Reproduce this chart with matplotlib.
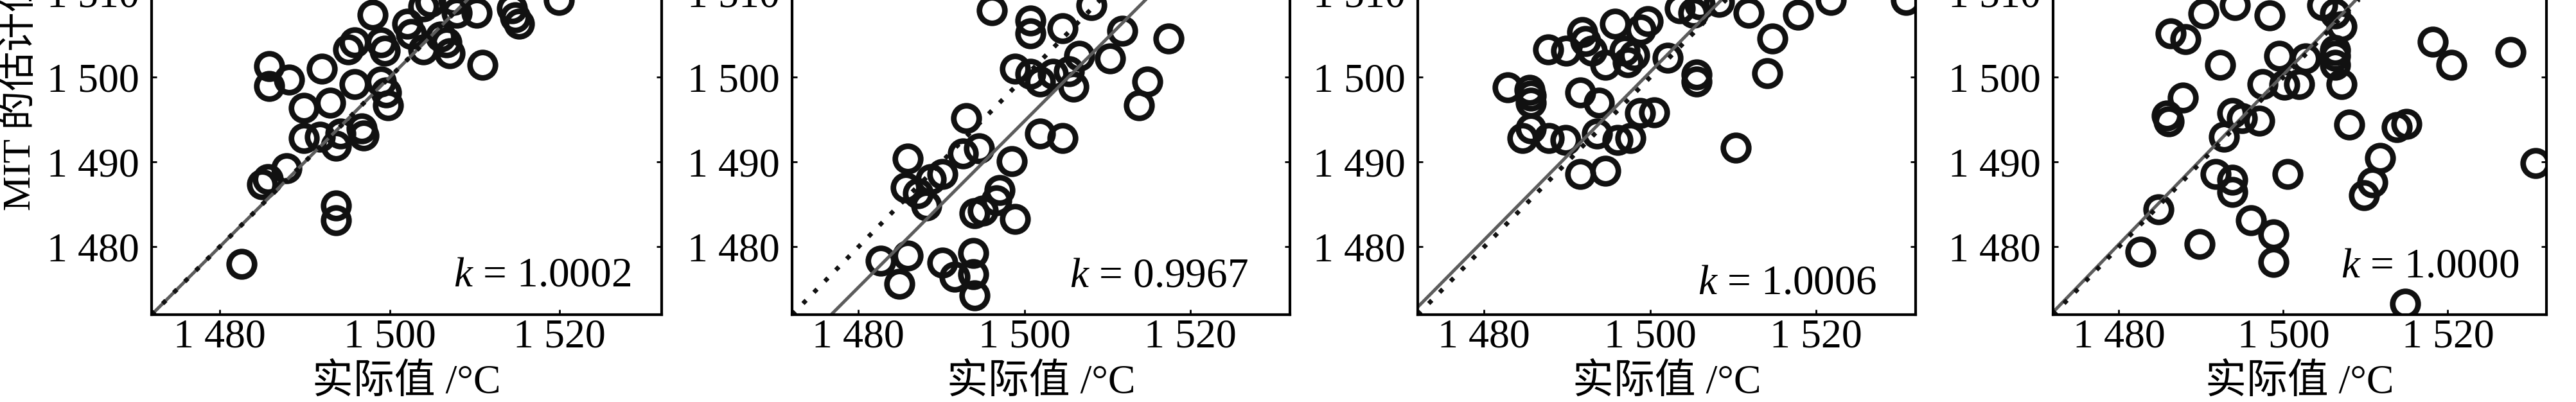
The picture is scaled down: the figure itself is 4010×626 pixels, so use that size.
import numpy as np
import matplotlib
matplotlib.use("Agg")
import matplotlib.pyplot as plt
from matplotlib.ticker import FixedLocator, FuncFormatter

plt.rcParams['font.family'] = ['Liberation Serif', 'Noto Sans CJK SC', 'DejaVu Sans']
plt.rcParams['mathtext.fontset'] = 'custom'
plt.rcParams['mathtext.it'] = 'Liberation Serif:italic'
plt.rcParams['mathtext.rm'] = 'Liberation Serif'

# ---- data ----
x1 = [1482.6, 1493.7, 1493.7, 1485.0, 1485.7, 1487.9, 1489.9, 1491.8, 1493.7, 1494.2,
      1496.7, 1496.9, 1493.0, 1489.9, 1499.6, 1499.8,
      1485.8, 1485.8, 1488.2, 1492.0, 1495.1, 1495.9, 1495.9, 1498.0, 1499.0, 1499.4,
      1502.1, 1502.5, 1504.0, 1504.8, 1504.0, 1506.0, 1506.7, 1507.1, 1507.9, 1510.2,
      1510.9, 1514.4, 1514.8, 1515.2, 1519.9, 1507.5, 1499.0]
y1 = [1478.0, 1484.9, 1483.1, 1487.4, 1488.0, 1489.3, 1492.8, 1493.0, 1491.9, 1493.4,
      1494.0, 1493.1, 1497.0, 1496.4, 1498.2, 1496.7,
      1501.3, 1499.0, 1499.7, 1501.0, 1503.3, 1504.1, 1499.2, 1507.4, 1504.1, 1503.1,
      1506.3, 1505.1, 1508.4, 1508.9, 1503.3, 1504.8, 1504.1, 1502.8, 1507.6, 1507.6,
      1501.5, 1508.1, 1507.1, 1506.3, 1509.1, 1509.1, 1499.5]

x2 = [1482.7, 1485.9, 1484.9, 1490.1, 1491.6, 1493.8, 1493.8, 1494.0, 1485.9, 1485.7,
      1487.2, 1488.2, 1488.7, 1490.1, 1492.6, 1493.0, 1494.5, 1494.0, 1495.0, 1497.0,
      1496.6, 1498.5, 1498.9, 1501.9, 1504.6, 1498.9, 1500.7, 1501.9, 1503.4, 1505.4,
      1505.9, 1506.6, 1510.3, 1514.8, 1513.8, 1511.8, 1517.4, 1500.7, 1500.7, 1504.6,
      1496.1, 1508.1]
y2 = [1478.4, 1479.0, 1475.6, 1478.1, 1476.5, 1479.3, 1476.8, 1474.3, 1490.4, 1487.0,
      1486.3, 1484.9, 1488.0, 1488.6, 1491.0, 1495.2, 1491.6, 1484.0, 1484.3, 1486.7,
      1485.5, 1490.1, 1483.3, 1493.4, 1492.8, 1501.0, 1500.4, 1499.5, 1500.4, 1500.7,
      1498.9, 1502.5, 1502.2, 1499.5, 1496.7, 1505.5, 1504.6, 1505.2, 1506.7, 1505.8,
      1507.9, 1508.5]

x3 = [1484.6, 1485.6, 1487.8, 1489.8, 1485.6, 1491.6, 1493.8, 1493.6, 1491.6, 1494.6,
      1496.1, 1497.6, 1498.8, 1500.5, 1510.3, 1485.6,
      1482.8, 1485.5, 1487.7, 1489.9, 1491.8, 1492.2, 1493.0, 1495.8, 1496.9, 1498.1,
      1497.3, 1494.6, 1499.7, 1498.9, 1502.1, 1503.6, 1505.2, 1506.0, 1505.6, 1505.6,
      1511.9, 1514.7, 1514.1, 1517.8, 1521.8, 1530.8, 1508.3]
y3 = [1492.8, 1494.0, 1492.8, 1492.6, 1497.0, 1498.2, 1497.0, 1493.4, 1488.6, 1489.0,
      1492.6, 1492.8, 1495.8, 1495.9, 1491.7, 1497.8,
      1498.8, 1498.5, 1503.3, 1503.1, 1505.3, 1504.3, 1503.1, 1506.3, 1503.1, 1502.6,
      1501.8, 1501.5, 1506.6, 1505.6, 1502.3, 1508.1, 1507.6, 1508.6, 1500.3, 1499.5,
      1507.6, 1504.6, 1500.5, 1507.4, 1509.1, 1509.1, 1508.9]

x4 = [1482.6, 1484.8, 1489.8, 1485.8, 1486.1, 1492.8, 1493.8, 1495.0, 1497.1, 1491.8,
      1493.8, 1493.8, 1496.1, 1498.8, 1498.8, 1500.5, 1508.0, 1509.8, 1510.8, 1511.8,
      1513.8, 1515.0, 1514.8, 1530.7, 1487.8,
      1486.3, 1488.1, 1490.3, 1494.1, 1498.3, 1492.3, 1499.5, 1502.7, 1504.7, 1506.3,
      1507.1, 1506.3, 1506.3, 1506.3, 1507.1, 1497.5, 1501.9, 1500.1, 1518.2, 1520.4,
      1527.6]
y4 = [1479.4, 1484.4, 1480.3, 1495.5, 1494.8, 1493.0, 1495.8, 1495.2, 1494.9, 1488.6,
      1487.9, 1486.5, 1483.1, 1481.5, 1478.2, 1488.6, 1494.4, 1486.1, 1487.6, 1490.5,
      1494.1, 1494.5, 1473.3, 1489.9, 1497.6,
      1505.2, 1504.5, 1507.5, 1508.5, 1507.3, 1501.5, 1502.5, 1502.2, 1508.5, 1507.5,
      1506.0, 1503.2, 1502.5, 1501.5, 1499.2, 1499.2, 1499.2, 1499.1, 1504.2, 1501.5,
      1503.0]

k_labels = ['1.0002', '0.9967', '1.0006', '1.0000']
fit_slope = [1.0, 0.98, 0.99, 1.0]
fit_intercept = [0.0, 24.83, 15.62, 0.3]

xticks = [1480, 1500, 1520]
yticks = [1480, 1490, 1500, 1510, 1520, 1530]
lim = (1472, 1532)

# ---- layout (pixels of the 4010x626 canvas) ----
W, H = 4010, 626
panels_px = [(236, 1030), (1233, 2008), (2207, 2982), (3196, 3964)]
bottom_px, height_px = 490, 792
k_pos = [(1528.4, 1475.4), (1527.0, 1475.3), (1527.3, 1474.5), (1528.7, 1476.4)]

fig = plt.figure(figsize=(W / 100, H / 100), dpi=100)
xs = [x1, x2, x3, x4]
ys = [y1, y2, y3, y4]
fmt = FuncFormatter(lambda v, p: '1 %03d' % (int(v) - 1000))
line_x = np.array(lim)

for i in range(4):
    l, r = panels_px[i]
    ax = fig.add_axes([l / W, (H - bottom_px) / H, (r - l) / W, height_px / H])
    ax.plot(xs[i], ys[i], 'o', ms=28.5, mfc='none', mec='#111111', mew=6.3,
            linestyle='none')
    ax.plot(line_x, fit_slope[i] * line_x + fit_intercept[i], '-', color='#5c5c5c', lw=3.6)
    ax.plot(line_x, line_x, color='#111111', lw=5, linestyle=(0, (1, 2.5)))
    ax.set_xlim(lim)
    ax.set_ylim(lim)
    ax.xaxis.set_major_locator(FixedLocator(xticks))
    ax.yaxis.set_major_locator(FixedLocator(yticks))
    ax.xaxis.set_major_formatter(fmt)
    ax.yaxis.set_major_formatter(fmt)
    ax.tick_params(direction='in', length=6, width=2, top=True, right=True,
                   labelsize=46, colors='black')
    ax.tick_params(axis='x', pad=5)
    ax.tick_params(axis='y', pad=14)
    for s in ax.spines.values():
        s.set_linewidth(3)
    ax.set_xlabel('实际值 /°C', fontsize=46)
    ax.xaxis.set_label_coords(0.5, -0.097)
    ax.text(k_pos[i][0], k_pos[i][1], '$k$ = ' + k_labels[i], fontsize=47,
            ha='right', va='baseline')
    if i == 0:
        ax.set_ylabel('MIT 的估计值 /°C', fontsize=44)
        ax.yaxis.set_label_coords(-0.222, 0.5)

fig.savefig('out.png', dpi=100, facecolor='white')
